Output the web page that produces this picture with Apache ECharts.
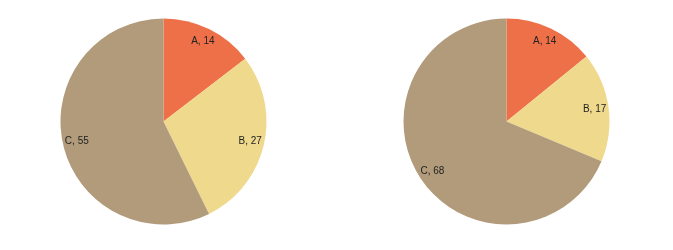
<!DOCTYPE html>
<html>
<head>
<meta charset="utf-8">
<script src="https://cdn.jsdelivr.net/npm/echarts@6/dist/echarts.min.js"></script>
<style>html,body{margin:0;padding:0;background:#fff}#c{width:673px;height:250px}</style>
</head>
<body>
<div id="c"></div>
<script>
const categories = ['A', 'B', 'C'];
const leftValues = [14, 27, 55];
const rightValues = [14, 17, 68];
const colors = ['#EE7049', '#EFD98D', '#B29B7B'];

const toData = vals => categories.map((n, i) => ({ name: n, value: vals[i] }));

function pieSeries(center, vals) {
  return [
    {
      type: 'pie', center: center, radius: [0, 103], startAngle: 90, clockwise: true,
      data: toData(vals), label: { show: false }, labelLine: { show: false },
      itemStyle: { borderWidth: 0 }, emphasis: { disabled: true }, animation: false
    },
    {
      type: 'pie', center: center, radius: [69, 103], startAngle: 90, clockwise: true,
      data: toData(vals), silent: true, animation: false,
      itemStyle: { color: 'rgba(0,0,0,0)', borderWidth: 0 },
      labelLine: { show: false }, emphasis: { disabled: true },
      label: {
        show: true, position: 'inside', formatter: p => p.name + ', ' + p.value,
        color: '#222', fontSize: 10, fontFamily: 'Liberation Sans, Arial, sans-serif'
      }
    }
  ];
}

const chart = echarts.init(document.getElementById('c'), null, { renderer: 'canvas' });
chart.setOption({
  color: colors,
  animation: false,
  series: [...pieSeries([163.5, 121.5], leftValues), ...pieSeries([506.5, 121.5], rightValues)]
});
</script>
</body>
</html>
